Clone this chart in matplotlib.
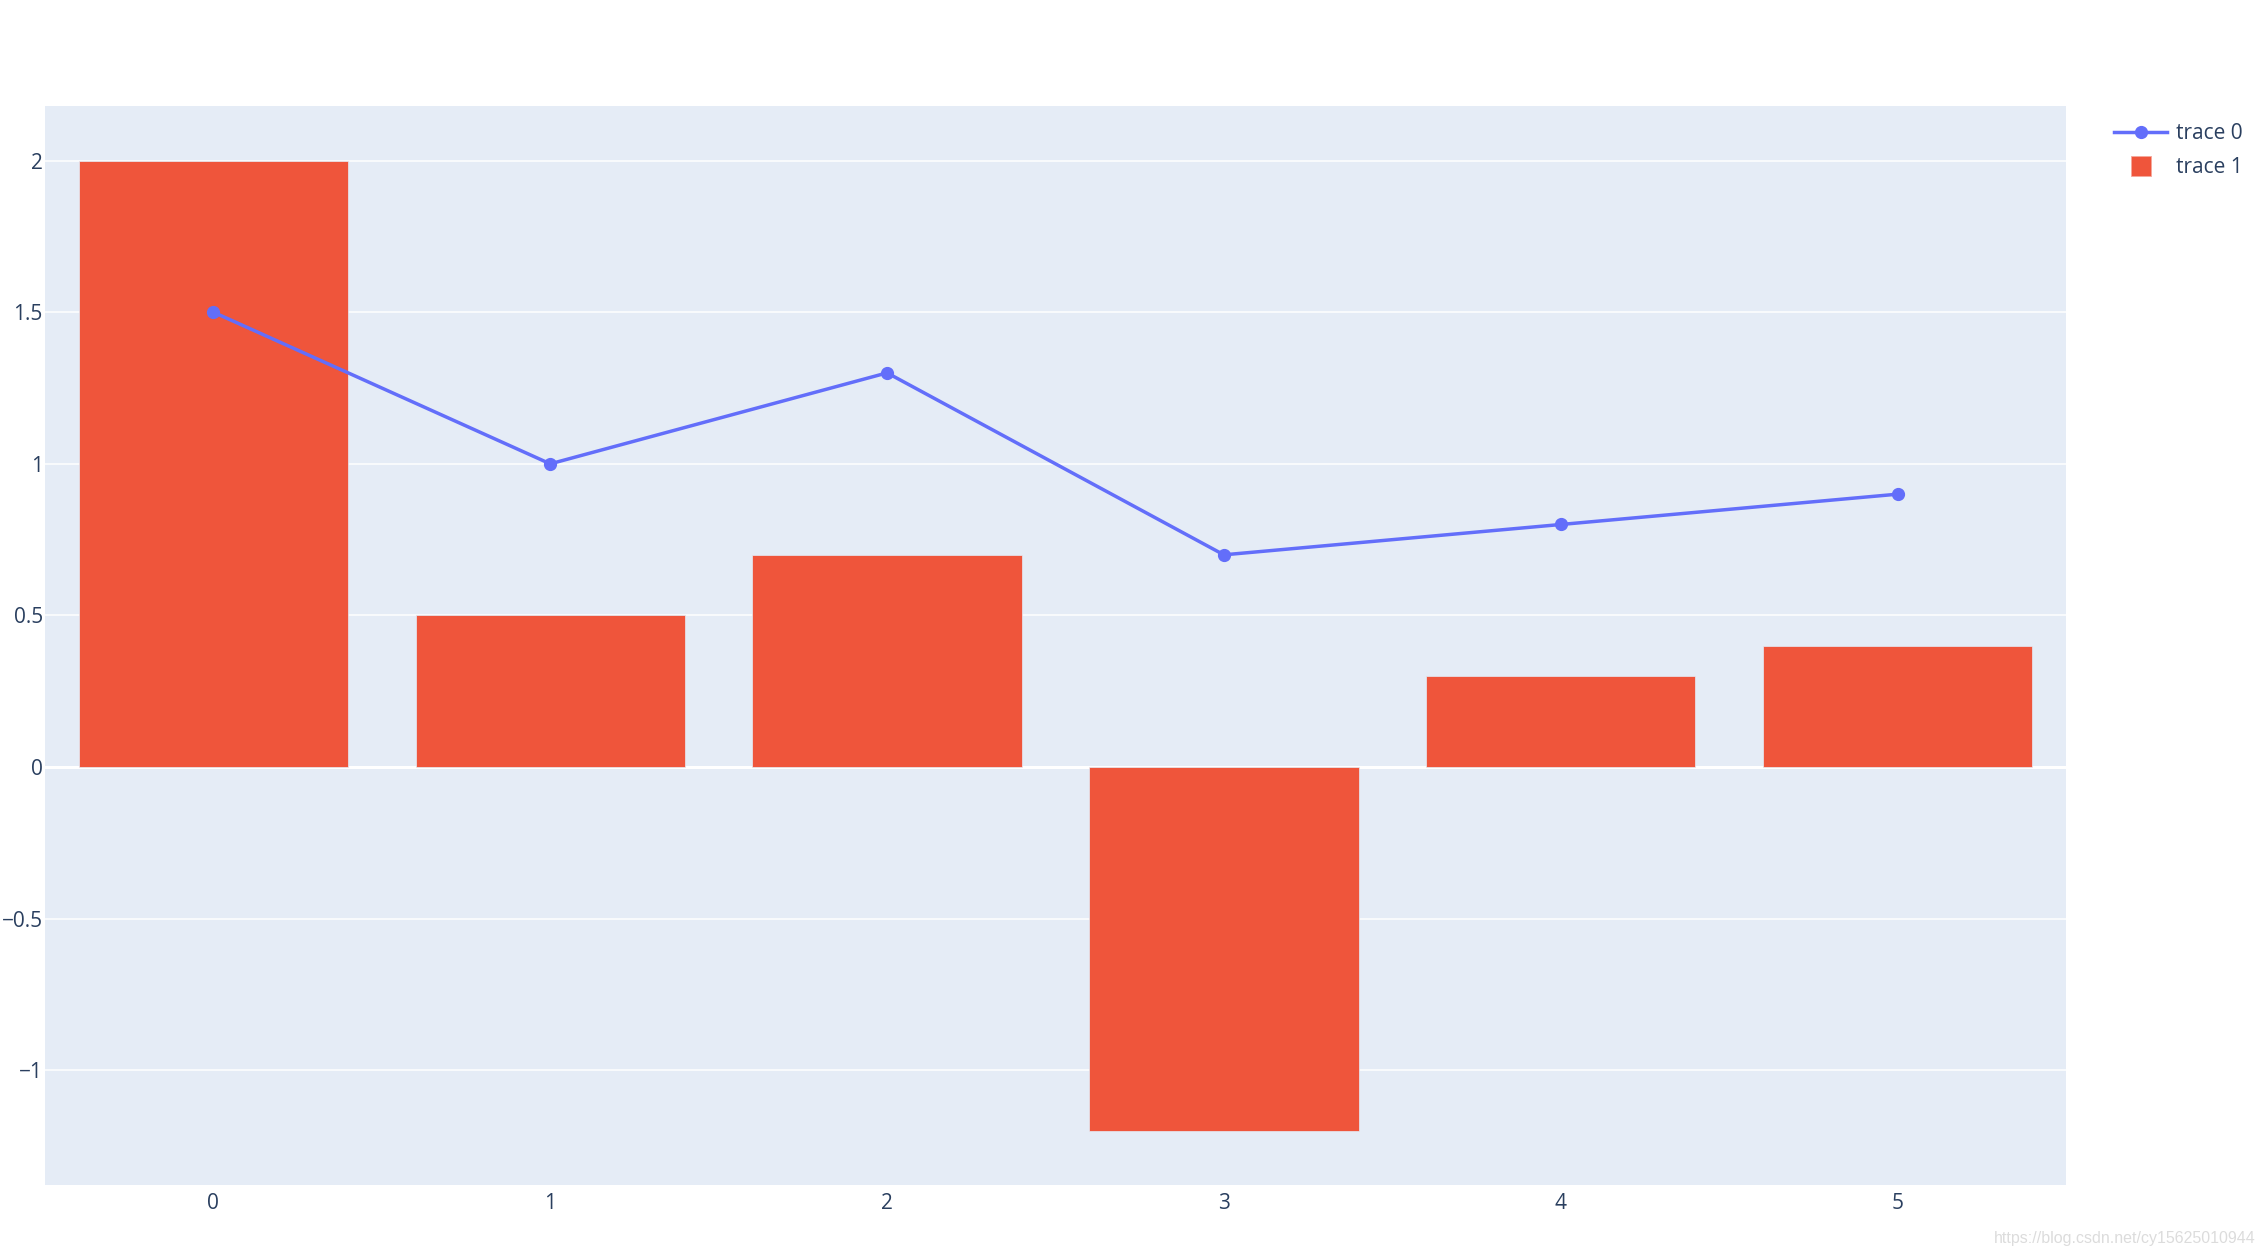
import matplotlib.pyplot as plt
from matplotlib.ticker import FuncFormatter
from matplotlib.lines import Line2D

# data
x_cats = [0, 1, 2, 3, 4, 5]
trace0 = [1.5, 1.0, 1.3, 0.7, 0.8, 0.9]
trace1 = [2.0, 0.5, 0.7, -1.2, 0.3, 0.4]
y_ticks = [-1, -0.5, 0, 0.5, 1, 1.5, 2]

plt.rcParams['font.family'] = ['Open Sans', 'DejaVu Sans']
text_col = '#2a3f5f'
fs = 15

W, H = 2266, 1256
fig = plt.figure(figsize=(W / 100, H / 100), dpi=100)
# plot area in pixels: left 45, right 2066, top 106, bottom 1185
ax = fig.add_axes([45 / W, 1 - 1185 / H, (2066 - 45) / W, (1185 - 106) / H])
ax.set_facecolor('#E5ECF6')

ax.bar(x_cats, trace1, width=0.8, color='#EF553B', edgecolor='#E5ECF6',
       linewidth=0.5, zorder=3, label='trace 1')
ax.plot(x_cats, trace0, color='#636EFA', lw=2.5, marker='o', ms=8.5, zorder=4, label='trace 0')

ax.set_xlim(-0.5, 5.5)
ax.set_ylim(-1.378, 2.18)
ax.set_xticks(x_cats)
ax.set_yticks(y_ticks)
ax.yaxis.set_major_formatter(FuncFormatter(lambda v, p: ('%g' % v).replace('-', '\u2212')))
ax.grid(axis='y', color='white', lw=1.1, zorder=1)
ax.axhline(0, color='white', lw=2.2, zorder=2)
for s in ax.spines.values():
    s.set_visible(False)
ax.tick_params(length=0, labelsize=fs, colors=text_col)
ax.tick_params(axis='x', pad=6)
ax.tick_params(axis='y', pad=1.5)

handles = [Line2D([], [], color='#636EFA', lw=2.5, marker='o', ms=8.5),
           Line2D([], [], ls='none', marker='s', ms=15, markerfacecolor='#EF553B',
                  markeredgecolor='#f5a89b', markeredgewidth=0.6)]
leg = fig.legend(handles, ['trace 0', 'trace 1'], loc='upper left',
                 bbox_to_anchor=(2106 / W, 1 - 115 / H), frameon=False,
                 fontsize=fs, handlelength=2.55, handletextpad=0.43,
                 labelspacing=0.6, borderaxespad=0)
for t in leg.get_texts():
    t.set_color(text_col)

fig.text(2256 / W, 1 - 1238 / H, 'https://blog.csdn.net/cy15625010944',
         ha='right', va='center', fontsize=11.5, color='#dcdcdc',
         family=['Liberation Sans', 'DejaVu Sans'])

fig.savefig('out.png', dpi=100)
